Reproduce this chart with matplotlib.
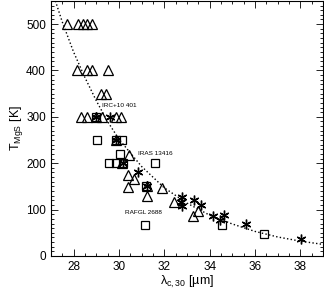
import numpy as np
import matplotlib
matplotlib.use('Agg')
import matplotlib.pyplot as plt
from matplotlib.ticker import MultipleLocator

plt.rcParams['font.family'] = ['Liberation Sans', 'DejaVu Sans']
plt.rcParams['mathtext.fontset'] = 'custom'
plt.rcParams['mathtext.rm'] = 'Liberation Sans'

# triangles
tri_x = [27.7, 28.2, 28.4, 28.6, 28.8,
         28.15, 28.6, 28.8, 29.5,
         29.2, 29.45,
         28.35, 28.6, 29.0, 29.25, 29.85, 30.1,
         29.85, 30.45, 30.15,
         30.4, 30.68, 30.4, 31.25, 31.25, 31.9, 32.45, 33.25, 33.5]
tri_y = [500, 500, 500, 500, 500,
         400, 400, 400, 400,
         350, 350,
         300, 300, 300, 300, 300, 300,
         250, 217, 200,
         174, 165, 148, 130, 150, 147, 117, 86, 96]

# squares
sq_x = [29.05, 29.85, 30.12, 29.0, 30.05, 29.58, 29.87, 30.16, 31.6, 31.2, 31.15, 34.55, 36.4]
sq_y = [250, 250, 250, 300, 220, 200, 200, 200, 200, 150, 67, 66, 47]

# asterisks
ast_x = [29.6, 29.0, 29.85, 30.16, 30.85, 31.22, 32.8, 32.75, 32.8, 33.3, 33.6, 34.15, 34.65, 34.45, 35.6, 38.05]
ast_y = [300, 300, 250, 200, 180, 150, 128, 117, 108, 120, 110, 87, 88, 77, 68, 37]

# dotted fit curve
curve_x = [27.2, 27.5, 28.0, 28.5, 29.0, 29.5, 30.0, 31.0, 32.0, 33.0, 34.0, 35.0, 36.0, 37.0, 38.0, 39.0]
curve_y = [550, 505, 440, 385, 335, 290, 252, 193, 147, 114, 88, 69, 53, 41, 32, 25]

labels = ['IRC+10 401', 'IRAS 13416', 'RAFGL 2688']
label_x = [29.27, 30.82, 30.29]
label_y = [325, 222, 94]

fig = plt.figure(figsize=(3.24, 2.98), dpi=100)
ax = fig.add_axes([0.157, 0.141, 0.84, 0.856])

ax.plot(curve_x, curve_y, ':', color='black', lw=1.0)
ax.plot(tri_x, tri_y, '^', ms=7, mfc='none', mec='black', mew=0.9, ls='none')
ax.plot(sq_x, sq_y, 's', ms=6.3, mfc='none', mec='black', mew=0.9, ls='none')
ax.plot(ast_x, ast_y, marker=(6, 2, 0), ms=7, color='black', mew=1.0, ls='none')

for t, x, y in zip(labels, label_x, label_y):
    ax.text(x, y, t, fontsize=4.6, ha='left', va='center')

ax.set_xlim(27, 39)
ax.set_ylim(0, 550)
ax.xaxis.set_major_locator(MultipleLocator(2))
ax.xaxis.set_minor_locator(MultipleLocator(0.5))
ax.yaxis.set_major_locator(MultipleLocator(100))
ax.yaxis.set_minor_locator(MultipleLocator(10))
ax.tick_params(which='both', direction='in', top=True, right=True, labelsize=8.5, width=0.6)
ax.tick_params(which='major', length=5)
ax.tick_params(which='minor', length=2.5)
for s in ax.spines.values():
    s.set_linewidth(0.8)

ax.set_xlabel('λ$_{\\rm c,30}$ [µm]', fontsize=9, labelpad=1)
ax.set_ylabel('T$_{\\rm MgS}$ [K]', fontsize=9, labelpad=1)

fig.savefig('out.png', dpi=100)
